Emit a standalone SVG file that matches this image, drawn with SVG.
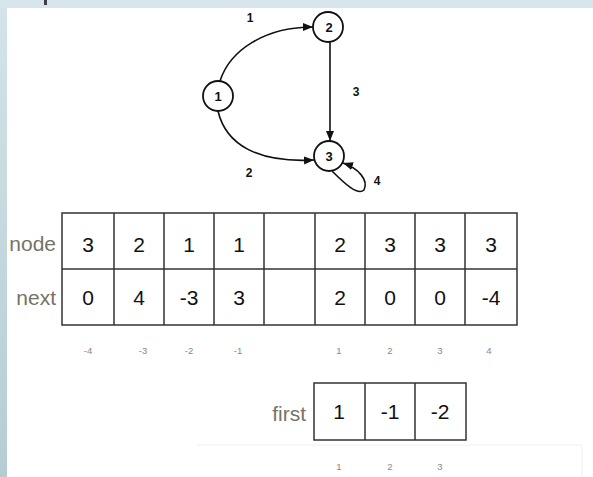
<svg xmlns="http://www.w3.org/2000/svg" width="593" height="477" viewBox="0 0 593 477">
<style>
.nc{fill:#fff;stroke:#111;stroke-width:1.8}
.nt{font-family:"Liberation Sans",Arial,sans-serif;font-weight:bold;font-size:13px;fill:#111;text-anchor:middle}
.el{font-family:"Liberation Sans",Arial,sans-serif;font-weight:bold;font-size:12px;fill:#111;text-anchor:middle}
.edge{fill:none;stroke:#111;stroke-width:1.6}
.cell{fill:none;stroke:#333;stroke-width:1.5}
.num{font-family:"Liberation Sans",Arial,sans-serif;font-size:21px;fill:#111;text-anchor:middle}
.lab{font-family:"Liberation Sans",Arial,sans-serif;font-size:21px;fill:#777266;text-anchor:end}
.idx{font-family:"Liberation Sans",Arial,sans-serif;font-size:9.5px;fill:#888;text-anchor:middle}
</style>
<defs>
<linearGradient id="strip" x1="0" y1="0" x2="0" y2="1">
<stop offset="0" stop-color="#d3e3e9"/>
<stop offset="1" stop-color="#b4cdd3"/>
</linearGradient>
<marker id="arr" markerUnits="userSpaceOnUse" markerWidth="10" markerHeight="8" refX="10" refY="4" orient="auto">
<path d="M0,0 L10,4 L0,8 z" fill="#111"/>
</marker>
</defs>
<rect x="0" y="0" width="593" height="477" fill="#d7e6ec"/>
<rect x="0" y="8" width="7" height="469" fill="url(#strip)"/>
<rect x="7" y="8" width="586" height="469" fill="#fff"/>
<rect x="44" y="0" width="3" height="5" fill="#3a3f4a"/>
<path d="M197 445 H582 V477" fill="none" stroke="#f0f0f0" stroke-width="1"/>

<g id="connectors">
<path class="edge" d="M220 81 C230 50 265 27 313 27" marker-end="url(#arr)"/>
<path class="edge" d="M218 111 C226 145 258 163 314 160" marker-end="url(#arr)"/>
<path class="edge" d="M330 42 L330 141" marker-end="url(#arr)"/>
<path class="edge" d="M332 171 C345 184 358 196 364 190 C369 180 358 168 343 163" marker-end="url(#arr)"/>
<text class="el" x="250" y="22">1</text>
<text class="el" x="249" y="177">2</text>
<text class="el" x="356" y="96">3</text>
<text class="el" x="377" y="185">4</text>
</g>

<g id="node1"><circle class="nc" cx="218" cy="96" r="15"/><text class="nt" x="218" y="100.5">1</text></g>
<g id="node2"><circle class="nc" cx="328" cy="27" r="15"/><text class="nt" x="329" y="31.5">2</text></g>
<g id="node3"><circle class="nc" cx="329" cy="156" r="15"/><text class="nt" x="329" y="160.5">3</text></g>

<g id="table-edges">
<rect class="cell" x="62" y="213" width="455" height="112"/>
<line class="cell" x1="62" y1="269" x2="517" y2="269"/>
<path class="cell" d="M114 213V325 M164 213V325 M214 213V325 M264 213V325 M315 213V325 M365 213V325 M415 213V325 M465 213V325"/>
<text class="lab" x="56" y="251">node</text>
<text class="lab" x="56" y="305">next</text>
<g class="num-row">
<text class="num" x="88" y="252">3</text>
<text class="num" x="139" y="252">2</text>
<text class="num" x="189" y="252">1</text>
<text class="num" x="239" y="252">1</text>
<text class="num" x="340" y="252">2</text>
<text class="num" x="390" y="252">3</text>
<text class="num" x="440" y="252">3</text>
<text class="num" x="491" y="252">3</text>
<text class="num" x="88" y="305">0</text>
<text class="num" x="139" y="305">4</text>
<text class="num" x="189" y="305">-3</text>
<text class="num" x="239" y="305">3</text>
<text class="num" x="340" y="305">2</text>
<text class="num" x="390" y="305">0</text>
<text class="num" x="440" y="305">0</text>
<text class="num" x="491" y="305">-4</text>
</g>
<text class="idx" x="88" y="354">-4</text>
<text class="idx" x="143" y="354">-3</text>
<text class="idx" x="189" y="354">-2</text>
<text class="idx" x="238" y="354">-1</text>
<text class="idx" x="339" y="354">1</text>
<text class="idx" x="390" y="354">2</text>
<text class="idx" x="440" y="354">3</text>
<text class="idx" x="489" y="354">4</text>
</g>

<g id="table-first">
<rect class="cell" x="314" y="383" width="152" height="57"/>
<path class="cell" d="M365 383V440 M415 383V440"/>
<text class="lab" x="306" y="421">first</text>
<text class="num" x="339" y="419">1</text>
<text class="num" x="390" y="419">-1</text>
<text class="num" x="440" y="419">-2</text>
<text class="idx" x="339" y="470">1</text>
<text class="idx" x="390" y="470">2</text>
<text class="idx" x="440" y="470">3</text>
</g>
</svg>
